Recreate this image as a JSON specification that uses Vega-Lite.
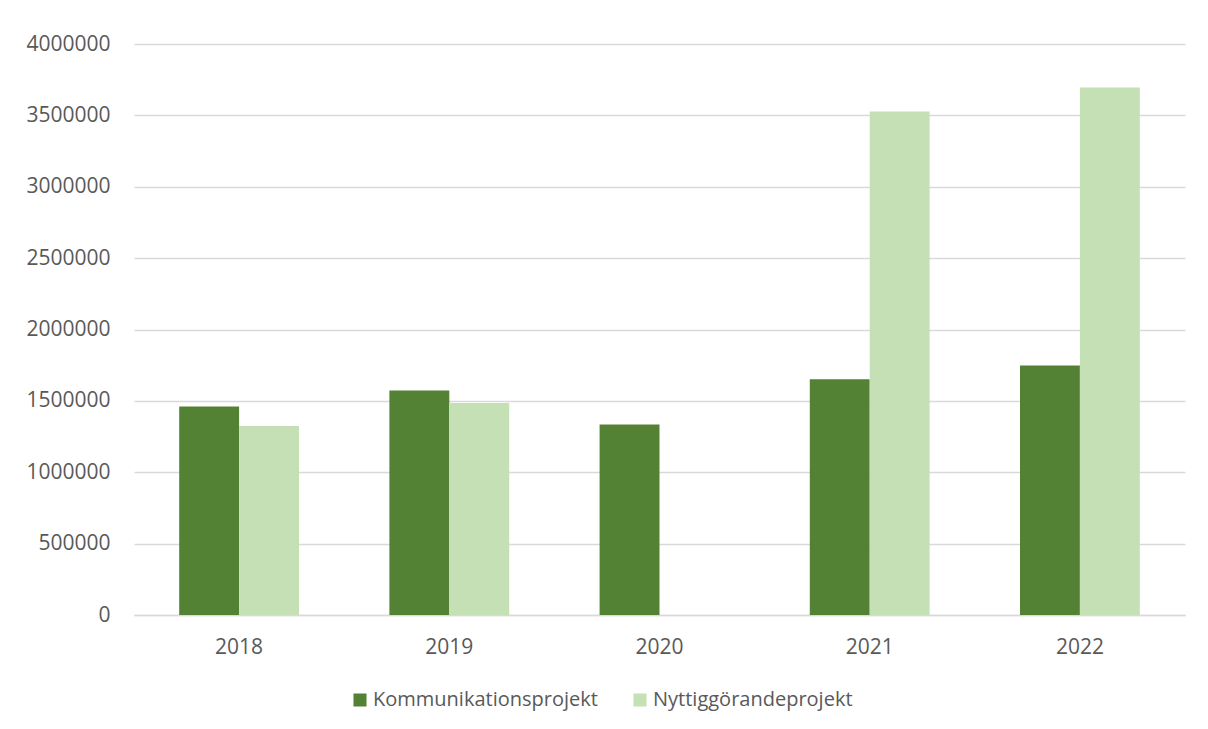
{
  "$schema": "https://vega.github.io/schema/vega-lite/v6.json",
  "autosize": {"type": "none"},
  "padding": {"left": 134, "top": 44, "right": 23, "bottom": 114},
  "width": 1051,
  "height": 571,
  "background": "white",
  "config": {
    "view": {"stroke": null},
    "font": "Open Sans",
    "axis": {"labelFont": "Open Sans", "labelFontSize": 21, "labelColor": "#595959"},
    "legend": {"labelFont": "Open Sans", "labelFontSize": 20, "labelColor": "#595959"}
  },
  "data": {
    "values": [
      {"year": "2018", "typ": "Kommunikationsprojekt", "belopp": 1460000},
      {"year": "2018", "typ": "Nyttiggörandeprojekt", "belopp": 1324000},
      {"year": "2019", "typ": "Kommunikationsprojekt", "belopp": 1572000},
      {"year": "2019", "typ": "Nyttiggörandeprojekt", "belopp": 1485000},
      {"year": "2020", "typ": "Kommunikationsprojekt", "belopp": 1334000},
      {"year": "2020", "typ": "Nyttiggörandeprojekt", "belopp": 0},
      {"year": "2021", "typ": "Kommunikationsprojekt", "belopp": 1651000},
      {"year": "2021", "typ": "Nyttiggörandeprojekt", "belopp": 3528000},
      {"year": "2022", "typ": "Kommunikationsprojekt", "belopp": 1747000},
      {"year": "2022", "typ": "Nyttiggörandeprojekt", "belopp": 3695000}
    ]
  },
  "mark": {"type": "bar"},
  "encoding": {
    "x": {
      "field": "year", "type": "nominal", "title": null,
      "scale": {"paddingInner": 0.43, "paddingOuter": 0.215},
      "axis": {"labelAngle": 0, "ticks": false, "domain": true, "domainColor": "#d9d9d9", "domainWidth": 1.5, "labelPadding": 21, "grid": false}
    },
    "xOffset": {"field": "typ", "type": "nominal", "sort": ["Kommunikationsprojekt", "Nyttiggörandeprojekt"], "scale": {"paddingInner": 0, "paddingOuter": 0}},
    "y": {
      "field": "belopp", "type": "quantitative", "title": null,
      "scale": {"domain": [0, 4000000], "nice": false},
      "axis": {"values": [0, 500000, 1000000, 1500000, 2000000, 2500000, 3000000, 3500000, 4000000], "format": "d", "ticks": false, "domain": false, "gridColor": "#d9d9d9", "gridWidth": 1.5, "labelPadding": 24}
    },
    "color": {
      "field": "typ", "type": "nominal", "title": null,
      "sort": ["Kommunikationsprojekt", "Nyttiggörandeprojekt"],
      "scale": {"domain": ["Kommunikationsprojekt", "Nyttiggörandeprojekt"], "range": ["#548235", "#C5E0B4"]},
      "legend": {"orient": "none", "direction": "horizontal", "legendX": 216, "legendY": 646, "symbolType": "square", "symbolSize": 170, "symbolStrokeWidth": 0, "labelOffset": 3, "columnPadding": 32, "labelLimit": 0}
    }
  }
}
